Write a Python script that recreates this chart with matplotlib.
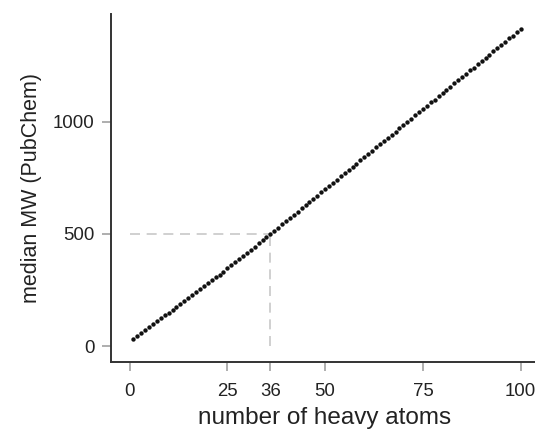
import matplotlib
matplotlib.use("Agg")
import matplotlib.pyplot as plt

matplotlib.rc("font", family = "Liberation Sans")

# number of heavy atoms vs median MW
heavy_atoms = list(range(1, 101))
median_mw = [31, 45, 59, 73, 86, 99, 112, 124, 137, 149,
             162, 175, 188, 201, 214, 228, 241, 254, 267, 280,
             293, 306, 319, 332, 346, 360, 374, 388, 402, 416,
             430, 444, 458, 472, 486, 500, 514, 528, 543, 557,
             571, 586, 600, 614, 628, 643, 657, 671, 686, 700,
             714, 729, 743, 757, 771, 786, 800, 814, 829, 843,
             857, 872, 886, 900, 914, 929, 943, 957, 972, 986,
             1001, 1014, 1030, 1042, 1058, 1071, 1087, 1099, 1116, 1128,
             1144, 1157, 1173, 1185, 1201, 1214, 1230, 1242, 1259, 1271,
             1287, 1300, 1316, 1328, 1344, 1357, 1373, 1385, 1402, 1415]

x_ticks = [0, 25, 36, 50, 75, 100]
y_ticks = [0, 500, 1000]
mark_x = 36
mark_y = 500

fig = plt.figure(figsize = (5.35, 4.33), dpi = 100)
ax = fig.add_axes([0.207, 0.163, 0.80, 0.805])

ax.plot([0, mark_x], [mark_y, mark_y], color = "#c8c8c8", lw = 1.2, dashes = (6, 4), zorder = 1)
ax.plot([mark_x, mark_x], [0, mark_y], color = "#c8c8c8", lw = 1.2, dashes = (6, 4), zorder = 1)
ax.scatter(heavy_atoms, median_mw, s = 10, color = "#111111", zorder = 3, linewidths = 0)

ax.set_xlim(-4.8, 104.6)
ax.set_ylim(-73, 1482)
ax.set_xticks(x_ticks)
ax.set_yticks(y_ticks)

for side in ["top", "right"]:
    ax.spines[side].set_visible(False)
for side in ["left", "bottom"]:
    ax.spines[side].set_color("#333333")
    ax.spines[side].set_linewidth(1.4)

ax.tick_params(direction = "out", length = 6.5, width = 1.1, color = "#999999",
               labelsize = 13.4, labelcolor = "#222222")
ax.tick_params(axis = "x", pad = 8)
ax.tick_params(axis = "y", pad = 5)

ax.set_xlabel("number of heavy atoms", fontsize = 17.5, color = "#222222", labelpad = 5)
ax.set_ylabel("median MW (PubChem)", fontsize = 15.5, color = "#222222", labelpad = 8)

fig.savefig("out.png", dpi = 100)
